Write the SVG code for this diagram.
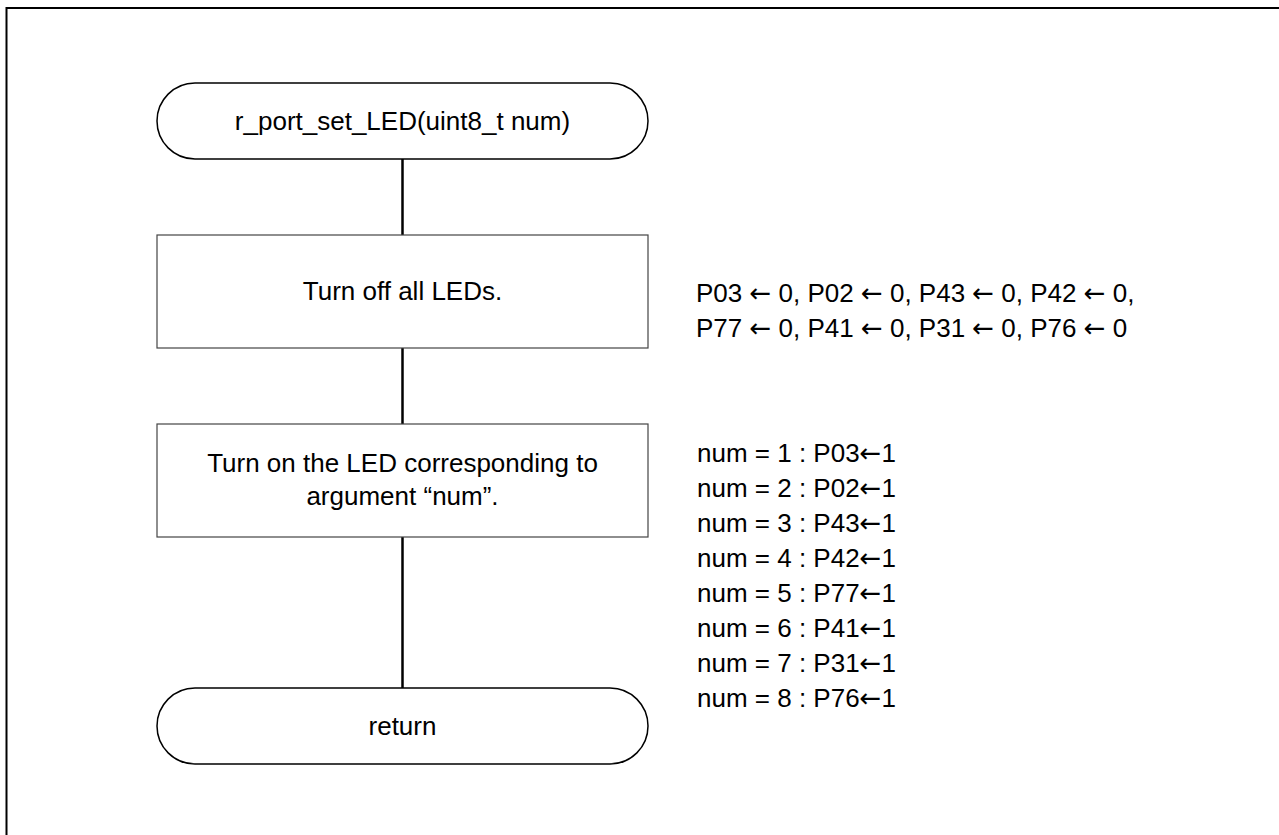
<svg xmlns="http://www.w3.org/2000/svg" width="1279" height="835" viewBox="0 0 1279 835">
<style>
text{font-family:"Liberation Sans",Arial,sans-serif;font-size:26px;fill:#000}
.c{text-anchor:middle}
.a{font-family:"DejaVu Sans",sans-serif;font-size:26px}
.term{fill:#fff;stroke:#000;stroke-width:1.5}
.box{fill:#fff;stroke:#444;stroke-width:1.2}
.conn{stroke:#000;stroke-width:2.5;fill:none}
</style>
<rect x="0" y="0" width="1279" height="835" fill="#fff"/>
<path d="M6.5 835 V8 H1279" fill="none" stroke="#000" stroke-width="2"/>
<g id="connectors">
<line class="conn" x1="402.5" y1="159" x2="402.5" y2="235"/>
<line class="conn" x1="402.5" y1="348" x2="402.5" y2="424"/>
<line class="conn" x1="402.5" y1="537" x2="402.5" y2="688"/>
</g>
<g id="start">
<rect class="term" x="157" y="83" width="491" height="76" rx="38" ry="38"/>
<text class="c" x="402.5" y="130">r_port_set_LED(uint8_t num)</text>
</g>
<g id="turnoff">
<rect class="box" x="157" y="235" width="491" height="113"/>
<text class="c" x="402.5" y="300">Turn off all LEDs.</text>
</g>
<g id="turnon">
<rect class="box" x="157" y="424" width="491" height="113"/>
<text class="c" x="402.5" y="472">Turn on the LED corresponding to</text>
<text class="c" x="402.5" y="505">argument “num”.</text>
</g>
<g id="return">
<rect class="term" x="157" y="688" width="491" height="76" rx="38" ry="38"/>
<text class="c" x="402.5" y="735">return</text>
</g>
<g id="note1">
<text x="696" y="302">P03 <tspan class="a">←</tspan> 0, P02 <tspan class="a">←</tspan> 0, P43 <tspan class="a">←</tspan> 0, P42 <tspan class="a">←</tspan> 0,</text>
<text x="696" y="337">P77 <tspan class="a">←</tspan> 0, P41 <tspan class="a">←</tspan> 0, P31 <tspan class="a">←</tspan> 0, P76 <tspan class="a">←</tspan> 0</text>
</g>
<g id="note2">
<text x="697" y="462">num = 1 : P03<tspan class="a">←</tspan>1</text>
<text x="697" y="497">num = 2 : P02<tspan class="a">←</tspan>1</text>
<text x="697" y="532">num = 3 : P43<tspan class="a">←</tspan>1</text>
<text x="697" y="567">num = 4 : P42<tspan class="a">←</tspan>1</text>
<text x="697" y="602">num = 5 : P77<tspan class="a">←</tspan>1</text>
<text x="697" y="637">num = 6 : P41<tspan class="a">←</tspan>1</text>
<text x="697" y="672">num = 7 : P31<tspan class="a">←</tspan>1</text>
<text x="697" y="707">num = 8 : P76<tspan class="a">←</tspan>1</text>
</g>
</svg>
